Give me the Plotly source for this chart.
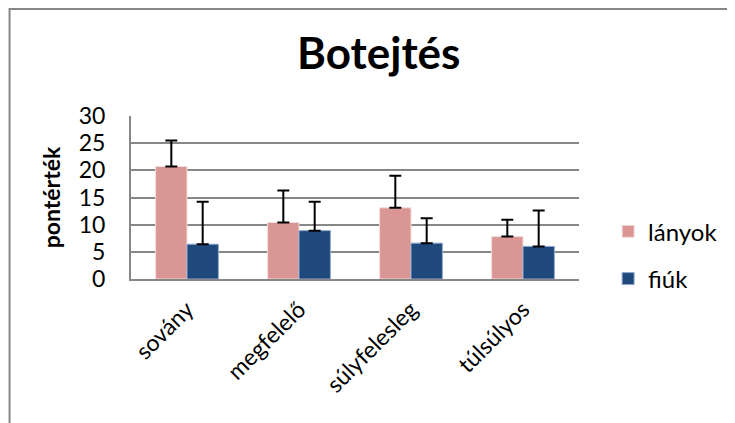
import plotly.graph_objects as go

categories = ["sovány", "megfelelő", "súlyfelesleg", "túlsúlyos"]
lanyok = [20.7, 10.4, 13.1, 7.8]
lanyok_err = [4.8, 5.9, 5.9, 3.1]
fiuk = [6.4, 8.9, 6.6, 6.0]
fiuk_err = [7.8, 5.3, 4.6, 6.6]
y_ticks = [0, 5, 10, 15, 20, 25, 30]

FONT = "Lato"

fig = go.Figure()
fig.add_trace(go.Bar(
    name="lányok", x=categories, y=lanyok,
    marker=dict(color="#D99694", line=dict(width=1, color="#F2DCDB")),
    error_y=dict(type="data", array=lanyok_err, symmetric=False,
                 arrayminus=[0] * len(lanyok), color="black", thickness=2, width=6),
    legend="legend",
))
fig.add_trace(go.Bar(
    name="fiúk", x=categories, y=fiuk,
    marker=dict(color="#1F497D", line=dict(width=1, color="#8EA9CC")),
    error_y=dict(type="data", array=fiuk_err, symmetric=False,
                 arrayminus=[0] * len(fiuk), color="black", thickness=2, width=6),
    legend="legend2",
))

fig.update_layout(
    width=727, height=415,
    margin=dict(l=123, r=154, t=108, b=144),
    paper_bgcolor="white", plot_bgcolor="white",
    font=dict(family=FONT, size=23, color="black"),
    barmode="group", bargap=0.44, bargroupgap=0,
    title=dict(text="<b>Botejtés</b>", x=0.51, xanchor="center", y=0.89, yanchor="middle",
               font=dict(family=FONT, size=44, color="black")),
    legend=dict(x=1.065, y=0.29, xanchor="left", yanchor="middle",
                font=dict(family=FONT, size=24), itemwidth=30, bgcolor="rgba(0,0,0,0)"),
    legend2=dict(x=1.065, y=0.0, xanchor="left", yanchor="middle",
                 font=dict(family=FONT, size=24), itemwidth=30, bgcolor="rgba(0,0,0,0)"),
    showlegend=True,
)
fig.update_xaxes(
    tickangle=-45, showline=True, linecolor="#878787", linewidth=2,
    ticks="", tickfont=dict(family=FONT, size=23), ticklabelstandoff=6,
)
fig.update_yaxes(
    range=[0, 30], tickvals=y_ticks, ticktext=[str(v) for v in y_ticks],
    showgrid=True, gridcolor="#878787", gridwidth=2,
    showline=True, linecolor="#878787", linewidth=2, zeroline=False,
    ticks="", tickfont=dict(family=FONT, size=23), ticklabelstandoff=19,
    title=dict(text="<b>pontérték</b>", font=dict(family=FONT, size=23), standoff=12),
)
fig.add_shape(type="rect", xref="paper", yref="paper",
              x0=-0.2711, x1=1.5, y0=-1.5, y1=1.6564,
              line=dict(color="#878787", width=2), fillcolor="rgba(0,0,0,0)", layer="below")

fig.write_html("out.html")
